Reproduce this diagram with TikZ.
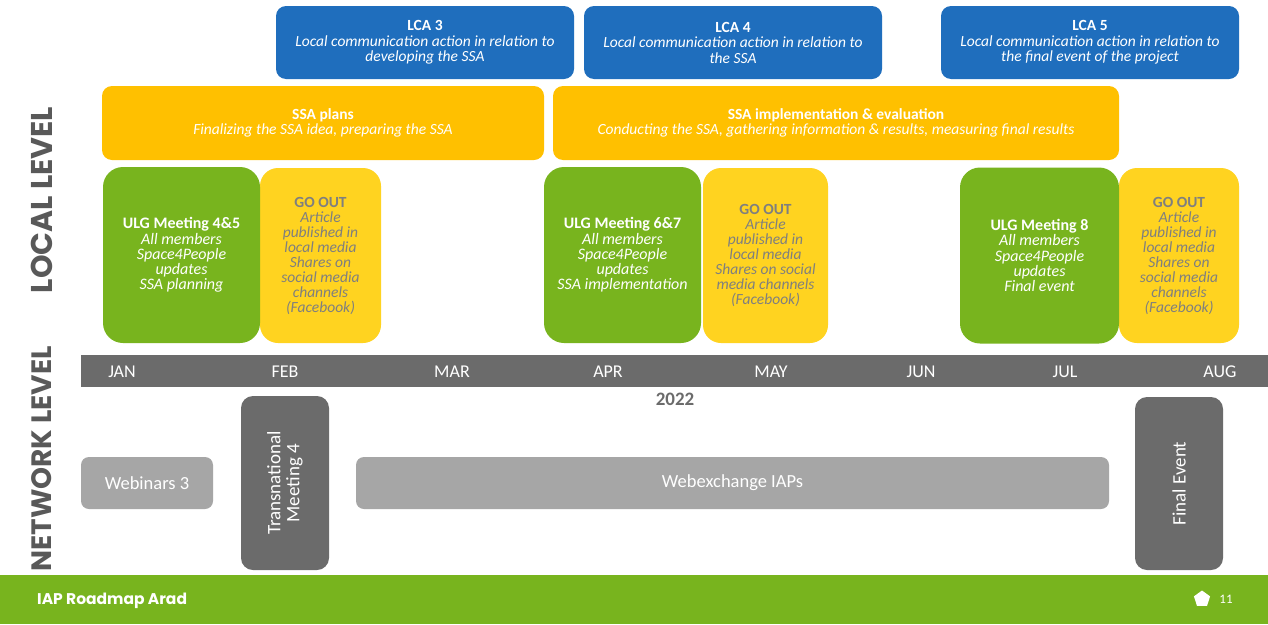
\documentclass[tikz,border=0pt]{standalone}
\usepackage{fontspec}
\setmainfont{Carlito}
\newfontfamily\headfont{Poppins}
\usetikzlibrary{shapes.geometric}
\definecolor{lcablue}{HTML}{1F6EBD}
\definecolor{ssaorange}{HTML}{FFC000}
\definecolor{ulggreen}{HTML}{78B41E}
\definecolor{goyellow}{HTML}{FFD320}
\definecolor{darkgrey}{HTML}{6B6B6B}
\definecolor{lightgrey}{HTML}{A6A6A6}
\definecolor{labelgrey}{HTML}{595959}
\definecolor{gotext}{HTML}{7F7F7F}
\begin{document}
\begin{tikzpicture}[x=1pt,y=-1pt,
  rbox/.style={draw=none, align=center, inner sep=0pt, text=white, font=\fontsize{15.5}{15.5}\selectfont},
  lca/.style={rbox, fill=lcablue, rounded corners=10pt, minimum width=298pt, minimum height=73pt},
  ssa/.style={rbox, fill=ssaorange, rounded corners=10pt, minimum height=74pt},
  ulg/.style={rbox, fill=ulggreen, rounded corners=20pt, minimum height=176pt, font=\fontsize{16}{15.2}\selectfont},
  goout/.style={rbox, fill=goyellow, rounded corners=18pt, minimum height=175pt, text=gotext, font=\fontsize{15.5}{15}\selectfont},
  month/.style={text=white, inner sep=0pt, font=\fontsize{18}{18}\selectfont},
  netlight/.style={rbox, fill=lightgrey, rounded corners=8pt, minimum height=52pt, font=\fontsize{18.5}{18.5}\selectfont},
  netdark/.style={rbox, fill=darkgrey, rounded corners=12pt, rotate=90, minimum width=174pt, minimum height=88pt, font=\fontsize{19}{19}\selectfont},
  levellabel/.style={text=labelgrey, inner sep=0pt, rotate=90, font=\headfont\bfseries\fontsize{30}{30}\selectfont}
]
\useasboundingbox (0,0) rectangle (1268,624);
\fill[white] (0,0) rectangle (1268,624);

% LCA boxes
\node[lca] (lca3) at (425,42.5) {\textbf{LCA 3}\\\textit{Local communication action in relation to}\\\textit{developing the SSA}};
\node[lca] (lca4) at (733,42.5) {\textbf{LCA 4}\\\textit{Local communication action in relation to}\\\textit{the SSA}};
\node[lca] (lca5) at (1090,42.5) {\textbf{LCA 5}\\\textit{Local communication action in relation to}\\\textit{the final event of the project}};

% SSA boxes
\node[ssa, minimum width=442pt] (ssaplans) at (323,123) {\textbf{SSA plans}\\\textit{Finalizing the SSA idea, preparing the SSA}};
\node[ssa, minimum width=566pt] (ssaimpl) at (836,123) {\textbf{SSA implementation \& evaluation}\\\textit{Conducting the SSA, gathering information \& results, measuring final results}};

% ULG and GO OUT boxes
\node[goout, minimum width=121pt] (go1) at (320.5,255.5) {\textbf{GO OUT}\\\textit{Article}\\\textit{published in}\\\textit{local media}\\\textit{Shares on}\\\textit{social media}\\\textit{channels}\\\textit{(Facebook)}};
\node[ulg, minimum width=157pt] (ulg45) at (181.5,255) {\textbf{ULG Meeting 4\&5}\\\textit{All members}\\\textit{Space4People}\\\textit{updates}\\\textit{SSA planning}};

\node[goout, minimum width=125pt] (go2) at (765.5,255.5) {\textbf{GO OUT}\\\textit{Article}\\\textit{published in}\\\textit{local media}\\\textit{Shares on social}\\\textit{media channels}\\\textit{(Facebook)}};
\node[ulg, minimum width=157pt] (ulg67) at (622.5,255) {\textbf{ULG Meeting 6\&7}\\\textit{All members}\\\textit{Space4People}\\\textit{updates}\\\textit{SSA implementation}};

\node[goout, minimum width=120pt] (go3) at (1179,255.5) {\textbf{GO OUT}\\\textit{Article}\\\textit{published in}\\\textit{local media}\\\textit{Shares on}\\\textit{social media}\\\textit{channels}\\\textit{(Facebook)}};
\node[ulg, minimum width=159pt] (ulg8) at (1039.5,255.5) {\textbf{ULG Meeting 8}\\\textit{All members}\\\textit{Space4People}\\\textit{updates}\\\textit{Final event}};

% timeline bar
\node[fill=darkgrey, inner sep=0pt, minimum width=1187pt, minimum height=32pt] (bar) at (674.5,371) {};
\node[month] (jan) at (122,372) {JAN};
\node[month] (feb) at (285,372) {FEB};
\node[month] (mar) at (452,372) {MAR};
\node[month] (apr) at (608,372) {APR};
\node[month] (may) at (771,372) {MAY};
\node[month] (jun) at (921,372) {JUN};
\node[month] (jul) at (1065,372) {JUL};
\node[month] (aug) at (1220,372) {AUG};
\node[text=darkgrey, inner sep=0pt, font=\bfseries\fontsize{19}{19}\selectfont] (year) at (675,399) {2022};

% network level
\node[netlight, minimum width=132pt] (webinars) at (147,483) {Webinars 3};
\node[netdark] (transnat) at (285,483) {Transnational\\Meeting 4};
\node[netlight, minimum width=753pt] (webex) at (732.5,483) {Webexchange IAPs};
\node[netdark, minimum width=173pt] (final) at (1179,483.5) {Final Event};

% footer
\node[fill=ulggreen, inner sep=0pt, minimum width=1268pt, minimum height=49pt] (footer) at (634,599.5) {};
\node[text=white, inner sep=0pt, anchor=west, font=\headfont\bfseries\fontsize{15.5}{15.5}\selectfont] (title) at (37,601) {IAP Roadmap Arad};
\node[fill=white, regular polygon, regular polygon sides=5, inner sep=0pt, minimum size=17pt] (penta) at (1202,599) {};
\node[text=white, inner sep=0pt, font=\fontsize{13}{13}\selectfont] (pagenum) at (1226,599) {11};

% level labels
\node[levellabel] (local) at (42,200) {LOCAL LEVEL};
\node[levellabel, font=\headfont\bfseries\fontsize{28}{28}\selectfont] (network) at (42,459) {NETWORK LEVEL};
\end{tikzpicture}
\end{document}
